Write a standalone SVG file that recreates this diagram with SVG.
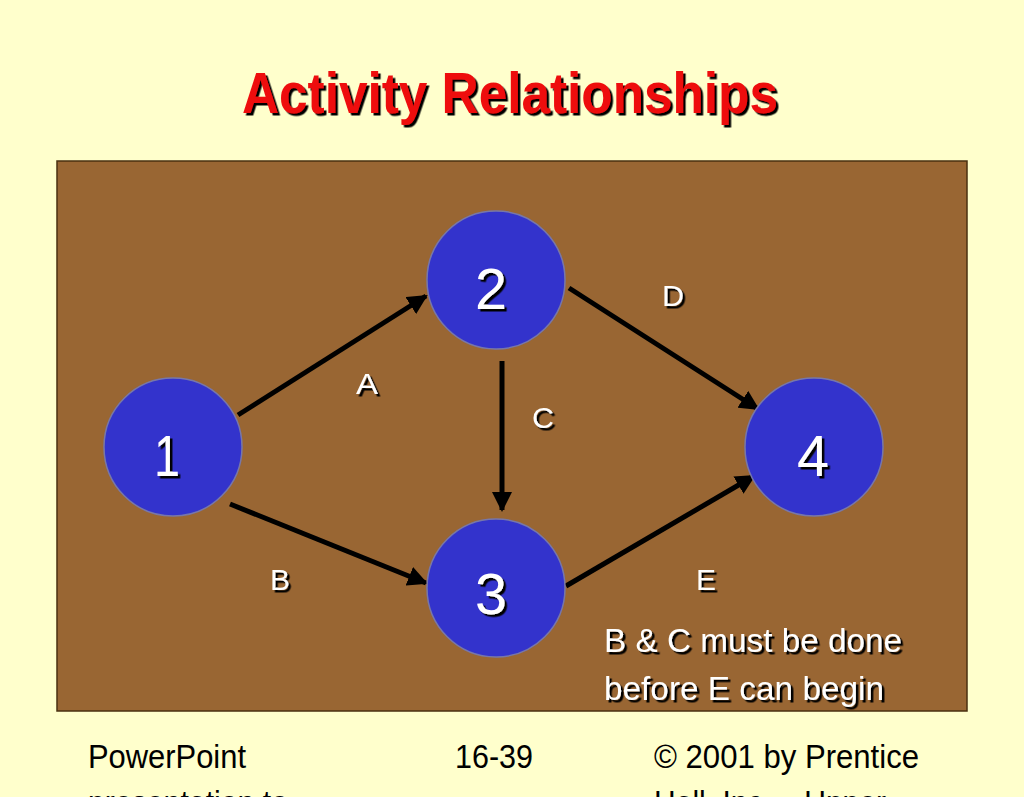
<svg xmlns="http://www.w3.org/2000/svg" width="1024" height="797" viewBox="0 0 1024 797">
<defs>
<filter id="ds" x="-20%" y="-20%" width="140%" height="140%"><feDropShadow dx="2.5" dy="2.5" stdDeviation="0" flood-color="#000"/></filter>
<style>
.n{fill:#3333cc;stroke:#7777aa;stroke-width:1.5}
.nt{font-family:"Liberation Sans",sans-serif;font-size:58px;fill:#fff;text-anchor:middle;filter:url(#ds)}
.lb{font-family:"Liberation Sans",sans-serif;font-size:30px;fill:#fff;text-anchor:middle;filter:url(#ds)}
.e{stroke:#000;stroke-width:5;fill:none;marker-end:url(#ah)}
.ft{font-family:"Liberation Sans",sans-serif;font-size:34px;fill:#000}
</style>
<marker id="ah" viewBox="0 0 10 10" refX="9" refY="5" markerWidth="4" markerHeight="4" orient="auto" markerUnits="strokeWidth"><path d="M0,0L10,5L0,10z" fill="#000"/></marker>
</defs>
<rect width="1024" height="797" fill="#ffffcc"/>
<text x="510" y="113" font-family="Liberation Sans,sans-serif" font-weight="bold" font-size="58" text-anchor="middle" fill="#ee1111" textLength="536" lengthAdjust="spacingAndGlyphs" filter="url(#ds)">Activity Relationships</text>
<rect x="57" y="161" width="910" height="550" fill="#996633" stroke="#4a3010" stroke-width="1.5"/>
<g id="connectors">
<line class="e" x1="238" y1="415" x2="426" y2="296"/>
<line class="e" x1="230" y1="504" x2="426" y2="583"/>
<line class="e" x1="502" y1="361" x2="502" y2="510"/>
<line class="e" x1="569" y1="288" x2="758" y2="409"/>
<line class="e" x1="566" y1="586" x2="754" y2="476"/>
<text class="lb" x="367" y="394" textLength="22" lengthAdjust="spacingAndGlyphs">A</text>
<text class="lb" x="280" y="590" textLength="20" lengthAdjust="spacingAndGlyphs">B</text>
<text class="lb" x="543" y="428" textLength="22" lengthAdjust="spacingAndGlyphs">C</text>
<text class="lb" x="673" y="306" textLength="22" lengthAdjust="spacingAndGlyphs">D</text>
<text class="lb" x="706" y="590" textLength="20" lengthAdjust="spacingAndGlyphs">E</text>
</g>
<g id="node1"><circle class="n" cx="173" cy="447" r="69"/><text class="nt" x="167" y="476" textLength="26" lengthAdjust="spacingAndGlyphs">1</text></g>
<g id="node2"><circle class="n" cx="496" cy="280" r="69"/><text class="nt" x="491" y="309" textLength="32" lengthAdjust="spacingAndGlyphs">2</text></g>
<g id="node3"><circle class="n" cx="496" cy="588" r="69"/><text class="nt" x="491" y="614" textLength="32" lengthAdjust="spacingAndGlyphs">3</text></g>
<g id="node4"><circle class="n" cx="814" cy="447" r="69"/><text class="nt" x="813" y="476" textLength="32" lengthAdjust="spacingAndGlyphs">4</text></g>
<g id="note" font-family="Liberation Sans,sans-serif" font-size="34" fill="#fff" filter="url(#ds)">
<text x="604" y="652" textLength="298" lengthAdjust="spacingAndGlyphs">B &amp; C must be done</text>
<text x="604" y="700" textLength="280" lengthAdjust="spacingAndGlyphs">before E can begin</text>
</g>
<text class="ft" x="88" y="768" textLength="158" lengthAdjust="spacingAndGlyphs">PowerPoint</text>
<text class="ft" x="88" y="814" textLength="200" lengthAdjust="spacingAndGlyphs">presentation to</text>
<text class="ft" x="455" y="768" textLength="78" lengthAdjust="spacingAndGlyphs">16-39</text>
<text class="ft" x="654" y="768" textLength="265" lengthAdjust="spacingAndGlyphs">© 2001 by Prentice</text>
<text class="ft" x="654" y="814" textLength="232" lengthAdjust="spacingAndGlyphs">Hall, Inc. – Upper</text>
</svg>
